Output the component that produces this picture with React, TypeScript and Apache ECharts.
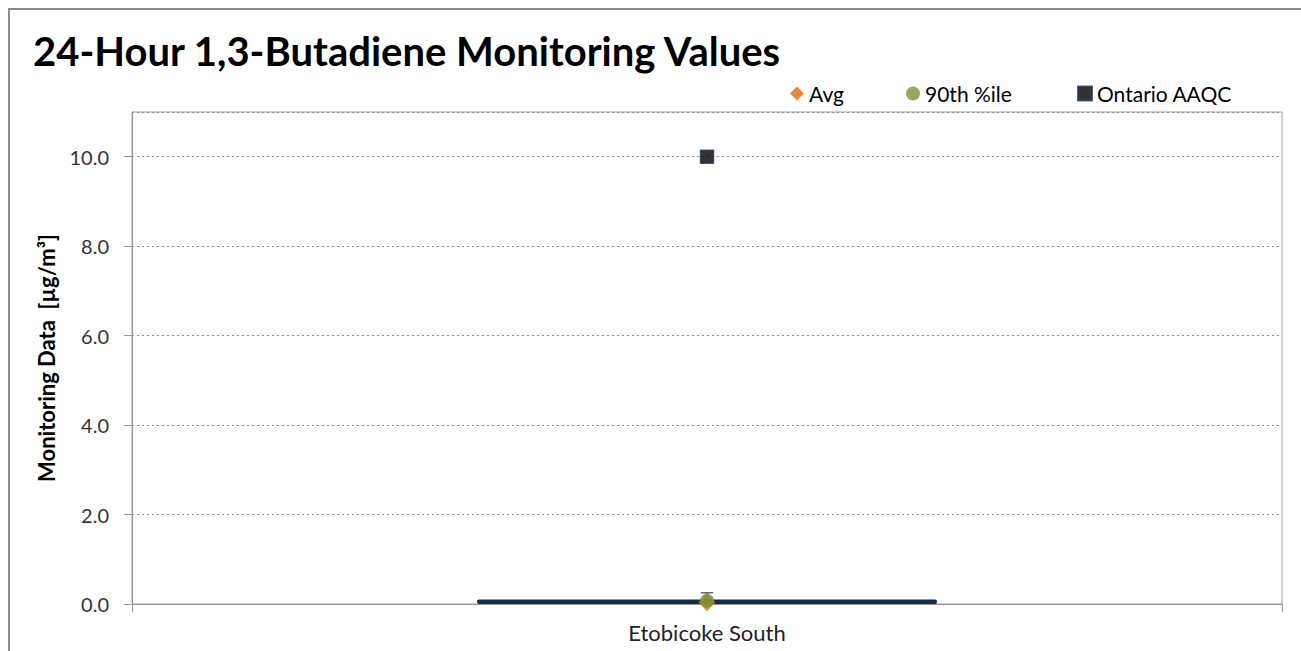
import React, { useEffect, useRef } from "react";
import * as echarts from "echarts";

const categories = ["Etobicoke South"];
const rangeValues = [0.1];
const avgValues = [0.04];
const p90Values = [0.07];
const maxValues = [0.25];
const aaqcValues = [10];
const yTicks = { min: 0, max: 11, interval: 2 };

const FONT = "Lato";

export default function App() {
  const ref = useRef<HTMLDivElement>(null);
  useEffect(() => {
    if (!ref.current) return;
    const chart = echarts.init(ref.current, null, { renderer: "svg" });
    const errData = categories.map((c, i) => [i, p90Values[i], maxValues[i]]);
    const legendBase = {
      top: 78,
      itemWidth: 14,
      itemHeight: 14,
      itemGap: 6,
      textStyle: { fontFamily: FONT, fontSize: 21, color: "#000" },
      selectedMode: false,
    };
    chart.setOption({
      animation: false,
      backgroundColor: "#fff",
      title: {
        text: "24-Hour 1,3-Butadiene Monitoring Values",
        left: 28,
        top: 26,
        textStyle: { fontFamily: FONT, fontSize: 40, fontWeight: "bold", color: "#000" },
      },
      legend: [
        { ...legendBase, left: 785, data: ["Avg"] },
        { ...legendBase, left: 901, data: ["90th %ile"] },
        { ...legendBase, left: 1072, data: ["Ontario AAQC"] },
      ],
      grid: {
        left: 132,
        top: 112,
        right: 19,
        bottom: 47,
        show: true,
        borderColor: "#a0a0a0",
        borderWidth: 1,
        backgroundColor: "transparent",
      },
      xAxis: {
        type: "category",
        data: categories,
        boundaryGap: true,
        axisLine: { lineStyle: { color: "#969696", width: 1 } },
        axisTick: { show: true, length: 8, alignWithLabel: false, lineStyle: { color: "#969696" } },
        axisLabel: { fontFamily: FONT, fontSize: 22, color: "#222", margin: 17 },
      },
      yAxis: {
        type: "value",
        min: yTicks.min,
        max: yTicks.max,
        interval: yTicks.interval,
        name: "Monitoring Data  [µg/m³]",
        nameLocation: "middle",
        nameGap: 75,
        nameTextStyle: { fontFamily: FONT, fontSize: 22, fontWeight: "bold", color: "#000" },
        axisLine: { show: true, lineStyle: { color: "#969696", width: 1 } },
        axisTick: { show: true, length: 8, lineStyle: { color: "#969696" } },
        axisLabel: {
          fontFamily: FONT,
          fontSize: 20,
          color: "#333",
          margin: 23,
          showMaxLabel: false,
          formatter: (v: number) => (v % 2 === 0 ? v.toFixed(1) : ""),
        },
        splitLine: { show: true, lineStyle: { color: "#8c8c8c", type: [2, 3], width: 1.2 } },
      },
      graphic: [
        {
          type: "polyline",
          shape: { points: [[9, 660], [9, 9], [1320, 9]] },
          style: { stroke: "#8a8a8a", lineWidth: 2, fill: "none" },
          silent: true,
        },
      ],
      series: [
        {
          name: "Range",
          type: "bar",
          data: rangeValues,
          barWidth: "40%",
          itemStyle: { color: "#172B4A", borderRadius: 2 },
          z: 2,
        },
        {
          name: "MaxErr",
          type: "custom",
          data: errData,
          z: 3,
          renderItem: (params: any, api: any) => {
            const x = api.coord([api.value(0), api.value(1)]);
            const top = api.coord([api.value(0), api.value(2)]);
            return {
              type: "group",
              children: [
                { type: "line", shape: { x1: x[0], y1: x[1], x2: top[0], y2: top[1] }, style: { stroke: "#404040", lineWidth: 1.2 } },
                { type: "line", shape: { x1: top[0] - 6, y1: top[1], x2: top[0] + 6, y2: top[1] }, style: { stroke: "#404040", lineWidth: 1.2 } },
              ],
            };
          },
        },
        {
          name: "Avg",
          type: "scatter",
          data: avgValues,
          symbol: "diamond",
          symbolSize: [17, 18],
          itemStyle: { color: "#E46C0A" },
          z: 4,
        },
        {
          name: "90th %ile",
          type: "scatter",
          data: p90Values,
          symbol: "circle",
          symbolSize: 14,
          itemStyle: { color: "#77933C" },
          z: 5,
        },
        {
          name: "Ontario AAQC",
          type: "scatter",
          data: aaqcValues,
          symbol: "rect",
          symbolSize: 13,
          itemStyle: { color: "#000000", borderColor: "#1F3864", borderWidth: 1.5 },
          z: 5,
        },
      ],
    });
    return () => chart.dispose();
  }, []);
  return (
    <div
      ref={ref}
      style={{ position: "fixed", left: 0, top: 0, width: 1301, height: 651 }}
    />
  );
}
